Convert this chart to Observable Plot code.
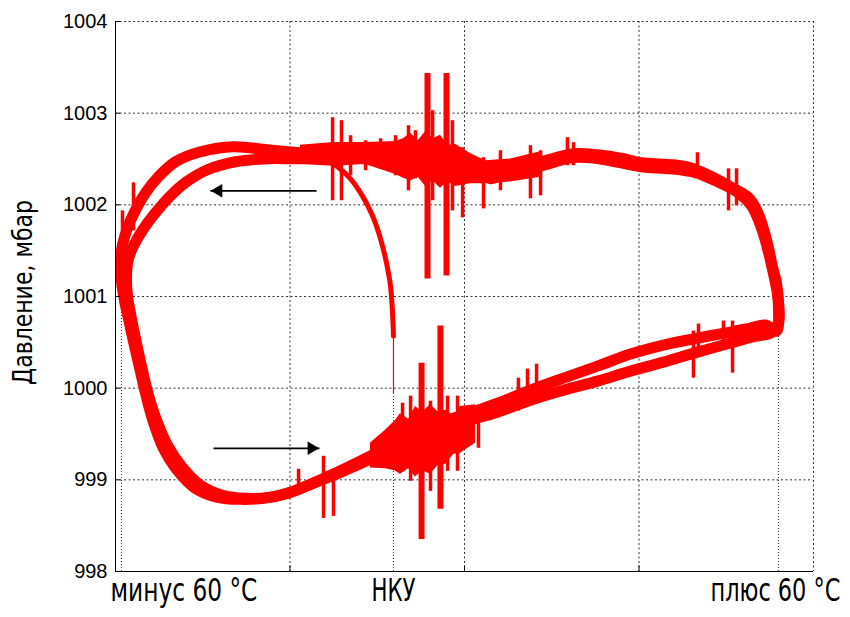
<!DOCTYPE html>
<html><head><meta charset="utf-8">
<script src="https://cdn.jsdelivr.net/npm/d3@7"></script>
<script src="https://cdn.jsdelivr.net/npm/@observablehq/plot@0.6"></script>
<style>body{margin:0;background:#fff}</style>
</head><body><div id="chart"></div>
<script>
// ---- axis / tick data ----
const yTicks = [998, 999, 1000, 1001, 1002, 1003, 1004];
const yGrid = [999, 1000, 1001, 1002, 1003, 1004];
const xGrid = [1, 2, 3, 4];
const xInnerTicks = [1, 2, 3];
const xLabels = ["минус 60 °C", "НКУ", "плюс 60 °C"];
const dropX = [0.034, 1.593, 3.799];
const dropTop = [1000.984, 999.945, 1000.623];
const yTitle = "Давление, мбар";

// ---- first cycle (outer strand top-left, upper strand bottom-right) ----
const c1X = [1.186,1.060,0.871,0.676,0.487,0.344,0.246,0.172,0.115,0.069,0.040,0.029,0.034,0.052,0.080,0.109,0.138,0.172,0.212,0.269,0.350,0.458,0.585,0.716,0.848,0.986,1.117,1.232,1.387,1.536,1.708,1.862,1.994,2.189,2.378,2.567,2.762,2.951,3.140,3.335,3.524,3.639,3.725,3.788,3.799,3.788,3.765,3.742,3.713,3.679,3.628,3.524,3.393,3.295,3.198,3.009,2.911,2.762,2.625,2.436,2.246,2.109,1.994,1.862,1.748,1.633,1.444,1.249,1.060];
const c1P = [1002.536,1002.568,1002.601,1002.634,1002.579,1002.470,1002.306,1002.131,1001.945,1001.749,1001.563,1001.388,1001.169,1000.951,1000.710,1000.459,1000.219,999.945,999.661,999.366,999.115,998.907,998.809,998.787,998.798,998.852,998.951,999.049,999.191,999.333,999.508,999.628,999.705,999.836,999.978,1000.109,1000.240,1000.372,1000.470,1000.546,1000.612,1000.656,1000.689,1000.623,1000.896,1001.148,1001.322,1001.530,1001.738,1001.923,1002.077,1002.197,1002.328,1002.404,1002.437,1002.459,1002.503,1002.546,1002.557,1002.470,1002.383,1002.317,1002.350,1002.415,1002.536,1002.601,1002.590,1002.568,1002.557];

// ---- second cycle (inner strand top-left, lower strand bottom-right) ----
const c2X = [1.249,1.060,0.871,0.688,0.527,0.407,0.315,0.229,0.160,0.109,0.074,0.063,0.069,0.092,0.120,0.149,0.183,0.229,0.292,0.378,0.487,0.613,0.745,0.877,1.014,1.146,1.289,1.433,1.576,1.719,1.862,2.006,2.189,2.378,2.567,2.762,2.951,3.140,3.335,3.524,3.668,3.754,3.799,3.799,3.777,3.754,3.725,3.691,3.645,3.570,3.438,3.324,3.181,3.009,2.837,2.722,2.607,2.464,2.292,2.149];
const c2P = [1002.525,1002.503,1002.503,1002.470,1002.383,1002.251,1002.098,1001.913,1001.738,1001.574,1001.410,1001.224,1001.005,1000.754,1000.492,1000.240,999.967,999.683,999.399,999.148,998.940,998.831,998.798,998.809,998.874,998.973,999.082,999.202,999.322,999.443,999.552,999.639,999.738,999.869,999.978,1000.077,1000.186,1000.284,1000.393,1000.492,1000.568,1000.601,1000.710,1000.951,1001.191,1001.388,1001.607,1001.803,1001.989,1002.131,1002.262,1002.350,1002.393,1002.415,1002.481,1002.514,1002.514,1002.437,1002.350,1002.284];

// ---- start branch from НКУ ----
const brThinX = [1.593, 1.593];
const brThinP = [999.945, 1000.568];
const brX = [1.593,1.587,1.576,1.553,1.519,1.473,1.415,1.347,1.272,1.186];
const brP = [1000.568,1000.842,1001.115,1001.366,1001.628,1001.880,1002.098,1002.284,1002.415,1002.514];

// ---- noisy envelopes ----
const topNoiseX  = [1.060,1.249,1.433,1.605,1.650,1.691,1.735,1.777,1.820,1.862,1.905,1.948,2.034,2.120,2.264,2.436];
const topNoiseLo = [1002.440,1002.420,1002.440,1002.330,1002.290,1002.260,1002.300,1002.200,1002.260,1002.180,1002.250,1002.200,1002.230,1002.230,1002.250,1002.300];
const topNoiseHi = [1002.650,1002.680,1002.680,1002.690,1002.720,1002.780,1002.700,1002.800,1002.720,1002.760,1002.650,1002.660,1002.560,1002.480,1002.500,1002.580];
const botNoiseX  = [1.461,1.547,1.600,1.633,1.680,1.719,1.760,1.805,1.850,1.891,1.940,1.977,2.063];
const botNoiseLo = [999.130,999.120,999.100,999.060,999.120,999.030,999.100,999.060,999.160,999.170,999.280,999.290,999.400];
const botNoiseHi = [999.400,999.540,999.640,999.720,999.660,999.800,999.740,999.820,999.740,999.760,999.700,999.800,999.820];

// ---- spikes ----
const bigSpikeX  = [1.788, 1.897, 1.754, 1.862];
const bigSpikeLo = [1001.191, 1001.224, 998.350, 998.678];
const bigSpikeHi = [1003.432, 1003.432, 1000.273, 1000.678];
const spikeX  = [0.040,0.103,1.244,1.295,1.347,1.433,1.519,1.605,1.679,1.719,1.817,1.931,1.989,2.109,2.206,2.378,2.436,2.590,2.625,3.335,3.513,3.559,
                 1.049,1.192,1.249,1.645,1.691,1.805,1.903,1.960,2.080,2.309,2.361,2.413,3.312,3.341,3.484,3.536];
const spikeLo = [1000.918,1001.716,1002.044,1002.044,1002.317,1002.372,1002.393,1002.317,1002.153,1002.284,1002.044,1001.934,1001.858,1001.956,1002.153,1002.066,1002.098,1002.426,1002.426,1002.317,1001.934,1001.989,
                 998.874,998.579,998.601,999.093,998.984,998.874,999.093,999.093,999.344,999.749,999.836,999.869,1000.109,1000.404,1000.459,1000.164];
const spikeHi = [1001.934,1002.240,1002.951,1002.918,1002.754,1002.699,1002.721,1002.754,1002.863,1002.809,1003.027,1002.918,1002.623,1002.514,1002.590,1002.645,1002.590,1002.732,1002.678,1002.568,1002.393,1002.393,
                 999.115,999.257,999.093,999.836,999.913,999.858,999.913,999.913,999.749,1000.109,1000.208,1000.262,1000.623,1000.699,1000.732,1000.732];

// ---- arrows ----
const arrowFrom = [1.152, 0.562];
const arrowTo   = [0.544, 1.169];
const arrowP    = [1002.153, 999.344];

// ---- build tables ----
const pts = (X, P) => X.map((x, i) => ({x, p: P[i]}));
const band = (X, L, H) => X.map((x, i) => ({x, lo: L[i], hi: H[i]}));
const cycle1 = pts(c1X, c1P), cycle2 = pts(c2X, c2P);
const branch = pts(brX, brP), branchThin = pts(brThinX, brThinP);
const topNoise = band(topNoiseX, topNoiseLo, topNoiseHi);
const botNoise = band(botNoiseX, botNoiseLo, botNoiseHi);
const bigSpikes = band(bigSpikeX, bigSpikeLo, bigSpikeHi);
const spikes = band(spikeX, spikeLo, spikeHi);
const arrows = arrowFrom.map((f, i) => ({from: f, to: arrowTo[i], p: arrowP[i]}));

const RED = "#ff0000";
const gridStyle = {stroke: "#333", strokeDasharray: "2,2.5", strokeWidth: 1};
const lineStyle = {x: "x", y: "p", stroke: RED, curve: "catmull-rom", strokeLinejoin: "round", strokeLinecap: "round"};
const condensed = "'DejaVu Sans Condensed', 'DejaVu Sans', sans-serif";
const xLabStyle = {frameAnchor: "bottom", dy: 29, fontSize: 32, fontFamily: condensed, fill: "#000"};

const chart = Plot.plot({
  width: 850, height: 617,
  marginLeft: 115, marginRight: 37, marginTop: 21, marginBottom: 46,
  style: {background: "#fff", fontFamily: "'Liberation Sans', Arial, sans-serif"},
  x: {domain: [0, 4], axis: null},
  y: {domain: [998, 1004], axis: null},
  marks: [
    Plot.ruleY(yGrid, gridStyle),
    Plot.ruleX(xGrid, gridStyle),
    Plot.ruleX(dropX, {x: d => d, y1: 998, y2: (d, i) => dropTop[i], stroke: "#333", strokeDasharray: "1,2"}),
    Plot.areaY(topNoise, {x: "x", y1: "lo", y2: "hi", fill: RED, curve: "linear"}),
    Plot.areaY(botNoise, {x: "x", y1: "lo", y2: "hi", fill: RED, curve: "linear"}),
    Plot.line(branchThin, {...lineStyle, strokeWidth: 1.2}),
    Plot.line(branch, {...lineStyle, strokeWidth: 5}),
    Plot.line(cycle1, {...lineStyle, strokeWidth: 11}),
    Plot.line(cycle2, {...lineStyle, strokeWidth: 11}),
    Plot.ruleX(spikes, {x: "x", y1: "lo", y2: "hi", stroke: RED, strokeWidth: 3.5}),
    Plot.ruleX(bigSpikes, {x: "x", y1: "lo", y2: "hi", stroke: RED, strokeWidth: 6}),
    Plot.link(arrows, {x1: "from", x2: "to", y1: "p", y2: "p", stroke: "#000", strokeWidth: 1.8}),
    Plot.dot([arrows[0]], {x: "to", y: "p", symbol: "triangle", r: 5, fill: "#000", rotate: -90, dx: 8}),
    Plot.dot([arrows[1]], {x: "to", y: "p", symbol: "triangle", r: 5, fill: "#000", rotate: 90, dx: -8}),
    Plot.ruleX([0], {stroke: "#000", strokeWidth: 1}),
    Plot.ruleY([998], {stroke: "#000", strokeWidth: 1}),
    Plot.ruleY(yGrid, {x1: 0, x2: 0.03, stroke: "#000"}),
    Plot.ruleX(xInnerTicks, {y1: 998, y2: 998.06, stroke: "#000"}),
    Plot.axisY({ticks: yTicks, anchor: "left", tickSize: 0, tickPadding: 8, fontSize: 20, tickFormat: d => String(d), label: null, fill: "#000"}),
    Plot.text([yTitle], {frameAnchor: "left", textAnchor: "middle", rotate: -90, dx: -84, dy: -4, fontSize: 26, fontFamily: condensed, fill: "#000"}),
    Plot.text([xLabels[0]], {...xLabStyle, x: dropX[0], dx: -11, textAnchor: "start"}),
    Plot.text([xLabels[1]], {...xLabStyle, x: dropX[1], textAnchor: "middle"}),
    Plot.text([xLabels[2]], {...xLabStyle, x: dropX[2], dx: 62, textAnchor: "end"})
  ]
});

document.getElementById("chart").appendChild(chart);

// condense the label glyphs horizontally (narrow drawing-style font)
const lens = {"Давление, мбар": 185, "минус 60 °C": 147, "НКУ": 44, "плюс 60 °C": 130};
d3.select(chart).selectAll("text").each(function () {
  const t = this.textContent;
  if (!lens[t]) return;
  const w = this.getComputedTextLength();
  if (!w) return;
  const s = lens[t] / w;
  const tr = this.getAttribute("transform") || "";
  const x = +this.getAttribute("x") || 0, y = +this.getAttribute("y") || 0;
  this.removeAttribute("x"); this.removeAttribute("y");
  this.setAttribute("transform", `${tr} translate(${x},${y}) scale(${s.toFixed(4)},1)`);
});
</script>
</body></html>
